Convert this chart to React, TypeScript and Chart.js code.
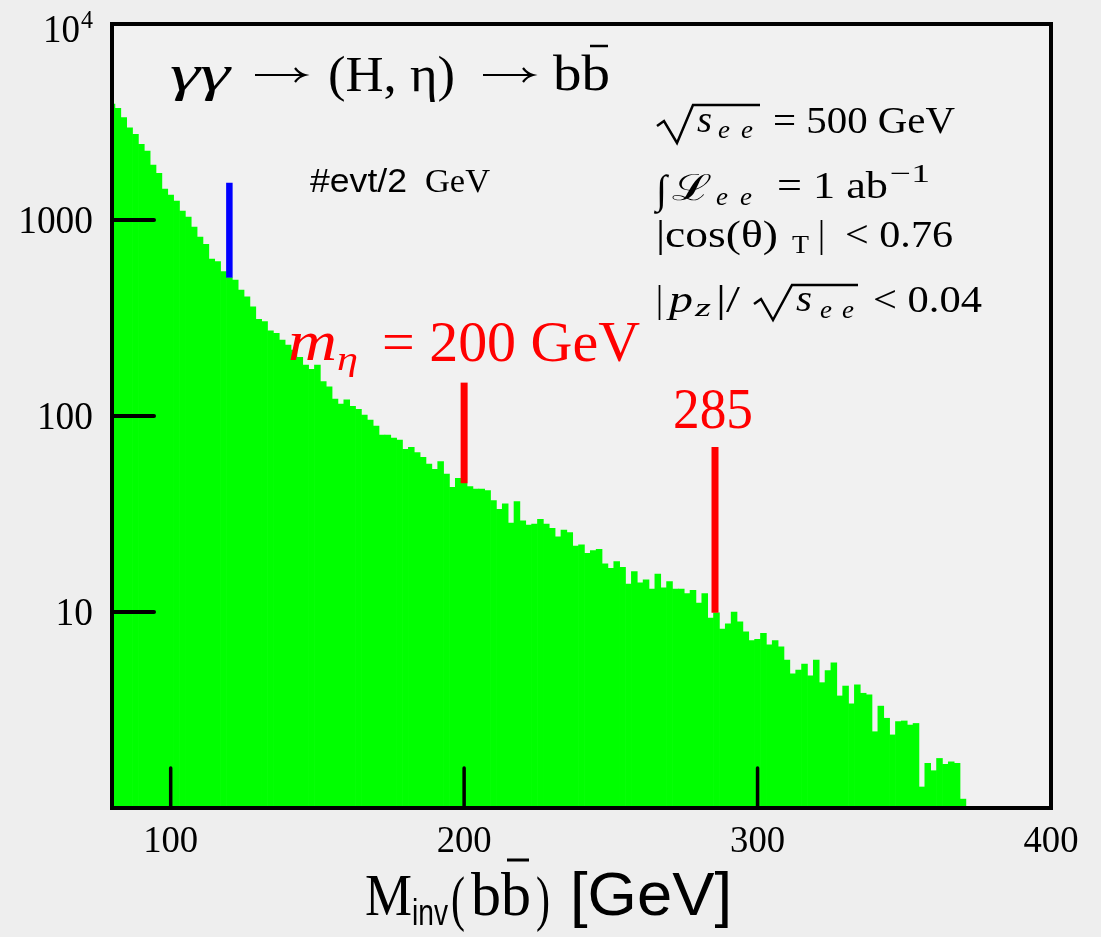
import React, { useEffect, useRef } from "react";
import { Chart, registerables } from "chart.js";

Chart.register(...registerables);

// Histogram: bin centres (GeV, 2 GeV bins) and events per bin
const binCenters = [
  80, 82, 84, 86, 88, 90, 92, 94, 96, 98,
  100, 102, 104, 106, 108, 110, 112, 114, 116, 118,
  120, 122, 124, 126, 128, 130, 132, 134, 136, 138,
  140, 142, 144, 146, 148, 150, 152, 154, 156, 158,
  160, 162, 164, 166, 168, 170, 172, 174, 176, 178,
  180, 182, 184, 186, 188, 190, 192, 194, 196, 198,
  200, 202, 204, 206, 208, 210, 212, 214, 216, 218,
  220, 222, 224, 226, 228, 230, 232, 234, 236, 238,
  240, 242, 244, 246, 248, 250, 252, 254, 256, 258,
  260, 262, 264, 266, 268, 270, 272, 274, 276, 278,
  280, 282, 284, 286, 288, 290, 292, 294, 296, 298,
  300, 302, 304, 306, 308, 310, 312, 314, 316, 318,
  320, 322, 324, 326, 328, 330, 332, 334, 336, 338,
  340, 342, 344, 346, 348, 350, 352, 354, 356, 358,
  360, 362, 364, 366, 368, 370,
];
const eventCounts = [
  3900, 3715, 3326, 2957, 2737, 2433, 2249, 1908, 1731, 1440,
  1342, 1250, 1112, 1036, 921, 819, 752, 632, 613, 545,
  508, 494, 439, 406, 361, 311, 303, 272, 264, 244,
  230, 217, 199, 182, 173, 182, 150, 141, 122, 115,
  121, 112, 108, 101, 95.4, 88.9, 80, 80, 77.2, 75.4,
  67.6, 69.2, 65, 61.5, 56.9, 53.5, 58.5, 50.6, 43.3, 48.1,
  45.4, 43.6, 42.4, 42.4, 41.6, 37, 33.4, 35.6, 28.4, 36.6,
  29.2, 27.8, 28.1, 29.7, 28.1, 26.7, 24.2, 26.2, 25.4, 21.7,
  22, 19.9, 20.6, 20.9, 17.6, 16.7, 18.1, 16.9, 13.9, 16.1,
  14.1, 14.6, 13.1, 15.6, 13.3, 14.3, 13.1, 13.1, 12.4, 12.9,
  11.1, 12.4, 9.3, 9.9, 8.17, 8.69, 10.0, 8.92, 7.93, 7.14,
  7.26, 7.79, 6.79, 7.14, 6.65, 5.69, 4.83, 5.06, 5.43, 4.72,
  5.69, 4.36, 5.02, 5.51, 3.73, 4.19, 3.4, 4.25, 3.85, 3.78,
  2.45, 3.31, 2.87, 2.36, 2.76, 2.78, 2.65, 2.7, 1.28, 1.69,
  1.55, 1.79, 1.67, 1.72, 1.69, 1.11,
];

// Marker lines: mass position and [bottom, top] in events
const higgsLineX = [120, 120];
const higgsLineY = [508, 1549];
const eta200LineX = [200, 200];
const eta200LineY = [45.4, 148];
const eta285LineX = [285.5, 285.5];
const eta285LineY = [9.9, 69.5];

const xTickValues = [100, 200, 300, 400];
const xTickLabels = ["100", "200", "300", "400"];
const xTickMarks = [100, 200, 300];
const yTickValues = [10, 100, 1000];
const yTickLabels = ["10", "100", "1000"];

const SERIF = "'Liberation Serif', 'DejaVu Serif', serif";
const SANS = "'Liberation Sans', 'DejaVu Sans', Arial, sans-serif";

function txt(
  ctx: CanvasRenderingContext2D,
  s: string,
  x: number,
  y: number,
  font: string,
  color: string,
  w?: number,
  align: CanvasTextAlign = "left"
) {
  ctx.save();
  ctx.font = font;
  ctx.fillStyle = color;
  ctx.textBaseline = "alphabetic";
  ctx.textAlign = align;
  if (w) {
    const m = ctx.measureText(s).width;
    ctx.translate(x, y);
    ctx.scale(w / m, 1);
    ctx.fillText(s, 0, 0);
  } else {
    ctx.fillText(s, x, y);
  }
  ctx.restore();
}

function line(ctx: CanvasRenderingContext2D, pts: number[][], width: number, color = "#000") {
  ctx.save();
  ctx.beginPath();
  ctx.moveTo(pts[0][0], pts[0][1]);
  for (let i = 1; i < pts.length; i++) ctx.lineTo(pts[i][0], pts[i][1]);
  ctx.lineWidth = width;
  ctx.strokeStyle = color;
  ctx.lineJoin = "miter";
  ctx.stroke();
  ctx.restore();
}

function arrow(ctx: CanvasRenderingContext2D, x0: number, x1: number, y: number) {
  line(ctx, [[x0, y], [x1 - 1, y]], 2.2);
  ctx.save();
  ctx.beginPath();
  ctx.moveTo(x1 - 10, y - 7);
  ctx.quadraticCurveTo(x1 - 6, y - 1.5, x1, y);
  ctx.quadraticCurveTo(x1 - 6, y + 1.5, x1 - 10, y + 7);
  ctx.lineWidth = 2.2;
  ctx.strokeStyle = "#000";
  ctx.stroke();
  ctx.restore();
}

const decorPlugin = {
  id: "decor",
  beforeDraw(chart: any) {
    const ctx = chart.ctx as CanvasRenderingContext2D;
    ctx.save();
    ctx.fillStyle = "#eeeeee";
    ctx.fillRect(0, 0, chart.width, chart.height);
    const a = chart.chartArea;
    ctx.fillStyle = "#f1f1f1";
    ctx.fillRect(a.left, a.top, a.right - a.left, a.bottom - a.top);
    ctx.restore();
  },
  afterDatasetsDraw(chart: any) {
    const ctx = chart.ctx as CanvasRenderingContext2D;
    const a = chart.chartArea;
    const xs = chart.scales.x;
    const ys = chart.scales.y;
    ctx.save();
    ctx.strokeStyle = "#000";
    ctx.lineCap = "round";
    ctx.lineWidth = 4;
    for (const v of yTickValues) {
      const py = ys.getPixelForValue(v);
      ctx.beginPath();
      ctx.moveTo(a.left, py);
      ctx.lineTo(a.left + 42, py);
      ctx.stroke();
    }
    ctx.lineWidth = 3.5;
    for (const v of xTickMarks) {
      const px = xs.getPixelForValue(v);
      ctx.beginPath();
      ctx.moveTo(px, a.bottom);
      ctx.lineTo(px, a.bottom - 40);
      ctx.stroke();
    }
    ctx.lineCap = "butt";
    ctx.lineWidth = 4;
    ctx.strokeRect(a.left, a.top, a.right - a.left, a.bottom - a.top);
    ctx.restore();
  },
  afterDraw(chart: any) {
    const ctx = chart.ctx as CanvasRenderingContext2D;
    const xs = chart.scales.x;
    const ys = chart.scales.y;
    const K = "#000";
    const R = "#ff0000";

    // y tick labels
    yTickValues.forEach((v, i) => {
      const py = ys.getPixelForValue(v);
      const w = yTickLabels[i].length * 18.7;
      txt(ctx, yTickLabels[i], 93 - w, py + 13, `41px ${SERIF}`, K, w);
    });
    const pTop = ys.getPixelForValue(10000);
    txt(ctx, "10", 43, pTop + 18, `41px ${SERIF}`, K, 37);
    txt(ctx, "4", 81, pTop + 4, `25px ${SERIF}`, K, 12);

    // x tick labels
    xTickValues.forEach((v, i) => {
      const px = xs.getPixelForValue(v);
      txt(ctx, xTickLabels[i], px - 27.5, 852, `38px ${SERIF}`, K, 55);
    });

    // x-axis title: M_inv(b b̄) [GeV]
    txt(ctx, "M", 365, 915, `60px ${SERIF}`, K, 47);
    txt(ctx, "inv", 412, 925, `36px ${SANS}`, K, 36);
    txt(ctx, "(", 451, 919, `62px ${SERIF}`, K, 14);
    txt(ctx, "bb", 471, 915, `62px ${SERIF}`, K, 60);
    line(ctx, [[507, 860], [529, 860]], 3);
    txt(ctx, ")", 536, 919, `62px ${SERIF}`, K, 14);
    txt(ctx, "[GeV]", 570, 915, `62px ${SANS}`, K, 162);

    // main title: γγ → (H, η) → b b̄
    txt(ctx, "γγ", 170, 90, `italic 50px ${SERIF}`, K, 60);
    arrow(ctx, 255, 305, 75);
    txt(ctx, "(H, η)", 328, 91, `50px ${SERIF}`, K, 127);
    arrow(ctx, 483, 533, 75);
    txt(ctx, "bb", 553, 90, `50px ${SERIF}`, K, 57);
    line(ctx, [[590, 46], [608, 46]], 2.5);

    // #evt/2 GeV
    txt(ctx, "#evt/2", 310, 192, `33px ${SANS}`, K, 97);
    txt(ctx, "GeV", 425, 192, `34px ${SERIF}`, K, 65);

    // sqrt(s_ee) = 500 GeV
    line(ctx, [[657, 126], [664, 121], [677, 143], [693, 105], [760, 105]], 2.5);
    txt(ctx, "s", 697, 132, `italic 38px ${SERIF}`, K, 15);
    txt(ctx, "e", 718, 138, `italic 26px ${SERIF}`, K, 12);
    txt(ctx, "e", 741, 138, `italic 26px ${SERIF}`, K, 12);
    txt(ctx, "= 500 GeV", 773, 133, `38px ${SERIF}`, K, 182);

    // ∫L_ee = 1 ab^-1
    txt(ctx, "∫", 656, 203, `40px ${SERIF}`, K, 11);
    txt(ctx, "ℒ", 672, 200, `36px 'DejaVu Serif', ${SERIF}`, K, 40);
    txt(ctx, "e", 716, 205, `italic 26px ${SERIF}`, K, 12);
    txt(ctx, "e", 740, 205, `italic 26px ${SERIF}`, K, 12);
    txt(ctx, "= 1 ab", 777, 198, `38px ${SERIF}`, K, 111);
    txt(ctx, "−1", 890, 182, `26px ${SERIF}`, K, 40);

    // |cos(θ)_T| < 0.76
    txt(ctx, "|cos(θ)", 656, 247, `38px ${SERIF}`, K, 122);
    txt(ctx, "T", 792, 253, `26px ${SERIF}`, K, 17);
    txt(ctx, "|", 818, 247, `38px ${SERIF}`, K, 7);
    txt(ctx, "< 0.76", 845, 247, `38px ${SERIF}`, K, 108);

    // |p_z|/sqrt(s_ee) < 0.04
    txt(ctx, "|", 656, 312, `38px ${SERIF}`, K, 7);
    txt(ctx, "p", 669, 312, `italic 38px ${SERIF}`, K, 24);
    txt(ctx, "z", 695, 316, `italic 26px ${SERIF}`, K, 16);
    txt(ctx, "|/", 716, 312, `38px ${SERIF}`, K, 24);
    line(ctx, [[754, 304], [761, 299], [773, 320], [792, 285], [858, 285]], 2.5);
    txt(ctx, "s", 796, 311, `italic 38px ${SERIF}`, K, 16);
    txt(ctx, "e", 820, 318, `italic 26px ${SERIF}`, K, 12);
    txt(ctx, "e", 842, 318, `italic 26px ${SERIF}`, K, 12);
    txt(ctx, "< 0.04", 873, 312, `38px ${SERIF}`, K, 109);

    // red annotations
    txt(ctx, "m", 288, 360, `italic 56px ${SERIF}`, R, 49);
    txt(ctx, "η", 337, 370, `italic 34px ${SERIF}`, R, 21);
    txt(ctx, "= 200 GeV", 382, 361, `56px ${SERIF}`, R, 258);
    txt(ctx, "285", 673, 428, `56px ${SERIF}`, R, 80);
  },
};

export default function App() {
  const canvasRef = useRef<HTMLCanvasElement | null>(null);

  useEffect(() => {
    if (!canvasRef.current) return;
    const histData = binCenters.map((x, i) => ({ x, y: eventCounts[i] }));
    const mk = (xs: number[], ys: number[]) => xs.map((x, i) => ({ x, y: ys[i] }));
    const chart = new Chart(canvasRef.current, {
      type: "bar",
      data: {
        datasets: [
          {
            type: "line",
            label: "H",
            data: mk(higgsLineX, higgsLineY),
            borderColor: "#0000ff",
            borderWidth: 6.5,
            pointRadius: 0,
            borderCapStyle: "butt",
            order: 1,
          } as any,
          {
            type: "line",
            label: "eta200",
            data: mk(eta200LineX, eta200LineY),
            borderColor: "#ff0000",
            borderWidth: 7,
            pointRadius: 0,
            borderCapStyle: "butt",
            order: 1,
          } as any,
          {
            type: "line",
            label: "eta285",
            data: mk(eta285LineX, eta285LineY),
            borderColor: "#ff0000",
            borderWidth: 7,
            pointRadius: 0,
            borderCapStyle: "butt",
            order: 1,
          } as any,
          {
            type: "bar",
            label: "events",
            data: histData,
            backgroundColor: "#00ff00",
            borderWidth: 0,
            barPercentage: 1,
            categoryPercentage: 1,
            order: 2,
          } as any,
        ],
      },
      options: {
        responsive: false,
        animation: false,
        devicePixelRatio: 1,
        layout: { padding: { left: 112, top: 24, right: 50, bottom: 129 } },
        plugins: {
          legend: { display: false },
          tooltip: { enabled: false },
          title: { display: false },
        },
        scales: {
          x: { type: "linear", min: 80, max: 400, display: false, offset: false },
          y: { type: "logarithmic", min: 1, max: 10000, display: false },
        },
      },
      plugins: [decorPlugin],
    } as any);
    return () => chart.destroy();
  }, []);

  return (
    <div style={{ position: "absolute", left: 0, top: 0, width: 1101, height: 937 }}>
      <canvas ref={canvasRef} width={1101} height={937} style={{ display: "block" }} />
    </div>
  );
}
